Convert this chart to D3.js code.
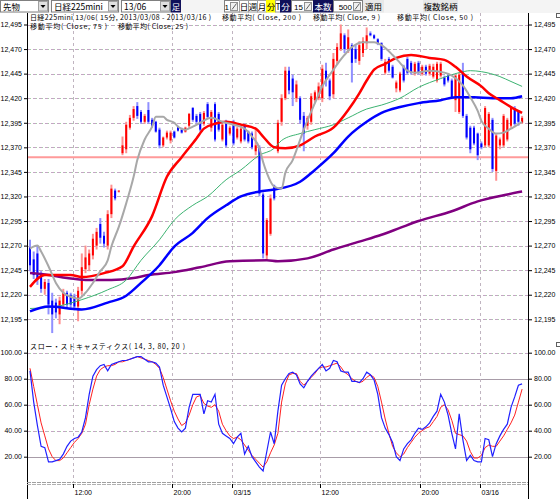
<!DOCTYPE html>
<html>
<head>
<meta charset="utf-8">
<script src="https://cdn.jsdelivr.net/npm/d3@7"></script>
<style>
  body { margin: 0; background: #fff; }
  svg text { font-family: "Liberation Sans", "DejaVu Sans", sans-serif; fill: #000; }
  svg .jp { font-family: "Noto Sans CJK JP", sans-serif; }
</style>
</head>
<body>
<svg id="chart" width="560" height="499"></svg>
<script>
// ---- data ----
const priceTicks = [12195, 12220, 12245, 12270, 12295, 12320, 12345, 12370, 12395, 12420, 12445, 12470, 12495];
const stochTicks = [20, 40, 60, 80, 100];
const stochSolid = [20, 80];
const timeTicks = [[12, '12:00'], [39, '20:00'], [55, '03/15'], [79, '12:00'], [106, '20:00'], [122, '03/16']];
const supportLevel = 12360;

// 15 min bars, [open, high, low, close]
const ohlc = [
  [12268,12276,12244,12250],[12256,12264,12236,12240],[12262,12270,12230,12236],[12240,12244,12222,12226],
  [12226,12236,12220,12233],[12232,12236,12200,12210],[12214,12222,12181,12200],[12212,12216,12196,12202],
  [12200,12218,12190,12214],[12210,12226,12206,12222],[12222,12224,12206,12210],[12220,12222,12206,12210],
  [12218,12221,12204,12208],[12208,12228,12193,12224],[12224,12262,12220,12248],[12246,12270,12242,12258],
  [12250,12266,12244,12262],[12260,12282,12256,12277],[12270,12288,12266,12284],[12292,12298,12272,12278],
  [12280,12284,12268,12272],[12270,12306,12266,12302],[12302,12332,12298,12328],[12326,12328,12316,12318],
  [12325,12326,12324,12326],
  [12364,12381,12362,12372],[12368,12396,12364,12393],[12390,12403,12388,12400],[12400,12412,12397,12409],
  [12412,12416,12399,12402],[12406,12408,12394,12396],[12396,12404,12394,12402],[12408,12416,12394,12396],
  [12398,12400,12390,12392],[12396,12397,12385,12386],[12388,12390,12369,12372],[12372,12381,12370,12380],
  [12380,12387,12378,12385],[12377,12387,12374,12385],[12386,12387,12379,12380],[12391,12392,12386,12387],
  [12388,12390,12384,12385],[12386,12391,12385,12390],[12392,12405,12390,12404],[12410,12411,12396,12398],
  [12402,12404,12394,12396],[12404,12406,12386,12388],[12394,12407,12392,12405],[12414,12416,12399,12401],
  [12390,12408,12386,12406],[12414,12416,12376,12378],[12404,12406,12386,12388],[12378,12394,12376,12393],
  [12396,12398,12370,12372],[12384,12392,12382,12390],[12396,12398,12372,12374],[12380,12391,12378,12389],
  [12376,12391,12374,12389],[12392,12394,12376,12378],[12386,12387,12374,12376],[12384,12386,12368,12370],
  [12366,12388,12362,12372],[12370,12372,12320,12323],[12322,12324,12257,12262],[12260,12298,12255,12296],
  [12282,12322,12280,12318],[12331,12332,12316,12318],
  [12366,12398,12364,12395],[12396,12424,12392,12420],[12420,12452,12418,12448],[12448,12452,12424,12428],
  [12440,12444,12412,12426],[12420,12438,12416,12434],[12420,12422,12394,12398],[12402,12406,12366,12384],
  [12392,12402,12388,12400],[12396,12425,12393,12422],[12418,12428,12415,12426],[12420,12436,12418,12432],
  [12420,12454,12416,12450],[12448,12456,12432,12438],[12438,12440,12418,12422],[12424,12466,12420,12460],
  [12458,12476,12454,12472],[12470,12495,12468,12486],[12484,12486,12466,12470],[12470,12490,12466,12482],
  [12474,12476,12436,12456],[12470,12474,12456,12460],[12458,12478,12454,12474],[12466,12482,12462,12478],
  [12476,12492,12470,12484],
  [12486,12488,12483,12484],[12484,12485,12480,12481],[12480,12481,12474,12476],[12476,12477,12458,12460],
  [12446,12460,12444,12457],[12460,12462,12446,12448],[12452,12454,12440,12441],[12430,12438,12426,12436],
  [12428,12447,12426,12445],[12452,12454,12436,12438],[12460,12462,12444,12446],[12456,12458,12444,12446],
  [12445,12457,12443,12455],[12456,12458,12444,12446],[12445,12454,12443,12452],[12452,12454,12443,12445],
  [12445,12455,12443,12453],[12442,12455,12440,12452],[12438,12457,12436,12455],[12443,12457,12441,12455],
  [12441,12443,12432,12434],[12443,12445,12436,12438],[12438,12440,12419,12421],[12418,12444,12406,12443],
  [12406,12446,12404,12444],[12446,12456,12400,12402],[12402,12404,12378,12380],[12390,12392,12364,12368],
  [12390,12392,12372,12374],[12384,12385,12357,12362],[12374,12376,12368,12370],[12372,12412,12370,12410],
  [12372,12406,12370,12404],[12398,12400,12345,12348],[12346,12384,12336,12382],[12372,12380,12368,12378],
  [12372,12404,12370,12402],[12378,12400,12376,12398],[12392,12412,12390,12410],[12410,12412,12392,12394],
  [12406,12408,12392,12396],[12395,12402,12394,12400]
];

// moving averages, [bar, value]
const ma9 = [[0,12267],[2,12270],[3,12264],[5,12249],[7,12232],[9,12222],[11,12218],[13,12216],[15,12222],
  [17,12232],[19,12244],[21,12255],[22,12269],[24,12289],[26,12313],[28,12340],[29,12357],[31,12378],[33,12391],
  [34,12401],[36,12401],[37,12398],[39,12395],[40,12391],[42,12388],[44,12391],[46,12395],[49,12400],[52,12396],
  [55,12393],[58,12389],[60,12381],[62,12369],[63,12355],[64,12344],[66,12330],[68,12328],[69,12344],[71,12357],
  [72,12367],[74,12388],[77,12415],[79,12432],[82,12449],[85,12464],[87,12472],[90,12477],[93,12477],[95,12474],
  [98,12464],[100,12456],[102,12448],[104,12446],[108,12448],[112,12446],[114,12443],[117,12433],[119,12421],
  [121,12407],[122,12397],[124,12389],[126,12384],[128,12385],[130,12389],[131,12391],[133,12396]];
const ma25 = [[0,12228],[4,12240],[11,12240],[14,12238],[20,12242],[25,12249],[28,12269],[33,12300],[37,12340],
  [41,12360],[45,12379],[47,12389],[50,12394],[53,12396],[57,12393],[61,12389],[63,12381],[66,12370],[69,12369],
  [73,12372],[77,12381],[82,12390],[86,12408],[89,12425],[91,12438],[93,12449],[96,12455],[99,12461],[103,12464],
  [108,12461],[112,12459],[115,12452],[118,12442],[122,12432],[124,12425],[127,12418],[130,12411],[133,12405]];
const ma50 = [[0,12206],[7,12208],[14,12215],[21,12225],[26,12235],[30,12255],[35,12276],[39,12296],[44,12311],
  [48,12320],[53,12337],[57,12347],[62,12362],[66,12369],[68,12377],[73,12384],[77,12388],[82,12393],[86,12400],
  [91,12409],[95,12413],[100,12420],[105,12431],[111,12440],[116,12446],[119,12448],[122,12447],[127,12442],
  [130,12437],[133,12432]];
const ma75 = [[0,12203],[5,12208],[14,12205],[21,12212],[26,12219],[30,12232],[35,12250],[39,12269],[44,12283],
  [48,12298],[53,12311],[57,12320],[62,12325],[66,12327],[73,12335],[77,12347],[82,12364],[86,12381],[91,12396],
  [95,12405],[100,12411],[105,12415],[111,12418],[115,12421],[120,12421],[125,12420],[130,12420],[133,12422]];
const ma200 = [[0,12242],[5,12240],[10,12237],[15,12235],[22,12235],[28,12237],[32,12240],[39,12243],[46,12248],
  [54,12254],[64,12255],[67,12254],[75,12257],[82,12266],[89,12274],[95,12281],[100,12288],[105,12295],
  [114,12305],[121,12315],[129,12322],[133,12325]];

// slow stochastics, one value per bar
const stochK = [86,62,44,28,27,16,16,17,18,22,28,32,34,35,39,50,68,82,87,90,91,86,91,92,93,94,94,95,96,97,
  97,95,93,93,92,89,75,66,57,47,42,39,42,58,68,68,68,53,63,62,68,45,38,36,34,30,35,38,22,28,
  20,16,12,9,24,39,30,55,75,80,84,85,83,76,73,78,82,85,88,91,86,88,94,93,86,85,85,78,78,77,
  80,85,83,79,68,50,42,37,31,20,17,26,30,33,38,42,41,43,46,51,55,68,62,52,38,26,53,33,17,21,
  17,16,16,34,33,20,30,36,41,45,58,66,75,76];
const stochD = [88,74,60,46,36,26,20,17,17,19,23,27,31,34,38,45,60,72,82,87,89,90,90,91,93,93,94,95,96,97,
  96,95,94,93,91,88,81,72,63,55,49,44,46,52,60,66,67,61,59,58,60,55,45,40,36,34,35,33,29,25,
  21,18,15,12,16,23,29,38,62,76,83,84,84,78,75,78,81,84,88,89,89,90,91,92,89,85,83,80,78,77,
  78,81,83,81,74,62,49,38,28,23,20,22,27,31,35,38,40,42,43,47,51,58,60,56,48,38,37,36,32,24,
  19,19,21,27,29,28,28,32,36,41,46,52,62,72];

// ---- layout ----
const svg = d3.select('#chart');
const plotLeft = 27, plotRight = 528;
const mainTop = 13, stochBottom = 483;

const x = d3.scaleLinear().domain([0, 133]).range([30, 30 + 3.7 * 133]);
const y = d3.scaleLinear().domain([12195, 12495]).range([319.3, 24.5]);
const ys = d3.scaleLinear().domain([0, 100]).range([482.7, 352.7]);

// ---- grid ----
const grid = svg.append('g');

function dashedH(g, yy) {
  g.append('line').attr('x1', plotLeft).attr('x2', plotRight).attr('y1', yy).attr('y2', yy)
    .attr('stroke', '#c4a6c4').attr('stroke-dasharray', '3,3');
  g.append('line').attr('x1', plotLeft + 3).attr('x2', plotRight).attr('y1', yy).attr('y2', yy)
    .attr('stroke', '#a6d4a6').attr('stroke-dasharray', '1,5');
}

priceTicks.forEach(p => dashedH(grid, Math.round(y(p)) + 0.5));
stochTicks.filter(v => !stochSolid.includes(v)).forEach(v => dashedH(grid, Math.round(ys(v)) + 0.5));
stochSolid.forEach(v => {
  grid.append('line').attr('x1', plotLeft).attr('x2', plotRight)
    .attr('y1', Math.round(ys(v)) + 0.5).attr('y2', Math.round(ys(v)) + 0.5)
    .attr('stroke', '#a89ca8');
});

timeTicks.forEach(([i]) => {
  const xx = Math.round(x(i - 0.5)) + 0.5;
  grid.append('line').attr('x1', xx).attr('x2', xx).attr('y1', mainTop).attr('y2', stochBottom)
    .attr('stroke', '#c0b4c0').attr('stroke-dasharray', '3,3');
});

// red horizontal level
svg.append('line').attr('x1', plotLeft).attr('x2', plotRight)
  .attr('y1', y(supportLevel)).attr('y2', y(supportLevel))
  .attr('stroke', '#ff9a9a').attr('stroke-width', 2);

// ---- candles ----
const candles = svg.append('g').selectAll('g').data(ohlc).join('g');
candles.append('line')
  .attr('x1', (d, i) => x(i)).attr('x2', (d, i) => x(i))
  .attr('y1', d => y(d[1])).attr('y2', d => y(d[2]))
  .attr('stroke', d => d[3] >= d[0] ? '#ff9090' : '#9090ff')
  .attr('stroke-width', 2);
candles.append('rect')
  .attr('x', (d, i) => x(i) - 1).attr('width', 2)
  .attr('y', d => y(Math.max(d[0], d[3])))
  .attr('height', d => Math.max(1, Math.abs(y(d[0]) - y(d[3]))))
  .attr('fill', d => d[3] >= d[0] ? '#ff0000' : '#0000ff');

// ---- moving averages ----
const maLine = d3.line().x(d => x(d[0])).y(d => y(d[1])).curve(d3.curveMonotoneX);
[[ma200, '#800080', 2.5], [ma50, '#3cb371', 1], [ma75, '#0000ff', 2.5], [ma25, '#ff0000', 2.5], [ma9, '#a8a8a8', 2]]
  .forEach(([data, color, w]) => {
    svg.append('path').datum(data).attr('d', maLine)
      .attr('fill', 'none').attr('stroke', color).attr('stroke-width', w);
  });

// ---- stochastics ----
const stLine = d3.line().x((d, i) => x(i)).y(d => ys(d));
svg.append('path').datum(stochD).attr('d', stLine)
  .attr('fill', 'none').attr('stroke', '#ff2020').attr('stroke-width', 1);
svg.append('path').datum(stochK).attr('d', stLine)
  .attr('fill', 'none').attr('stroke', '#2020ff').attr('stroke-width', 1.2);

// ---- axes ----
svg.append('line').attr('x1', plotLeft + 0.5).attr('x2', plotLeft + 0.5).attr('y1', mainTop).attr('y2', 499)
  .attr('stroke', '#000');
svg.append('line').attr('x1', plotRight + 0.5).attr('x2', plotRight + 0.5).attr('y1', mainTop).attr('y2', 499)
  .attr('stroke', '#000');
svg.append('line').attr('x1', plotLeft).attr('x2', plotRight).attr('y1', stochBottom - 0.5).attr('y2', stochBottom - 0.5)
  .attr('stroke', '#a0a0a0').attr('stroke-dasharray', '4,1');
svg.append('line').attr('x1', plotLeft).attr('x2', plotRight).attr('y1', stochBottom + 1.5).attr('y2', stochBottom + 1.5)
  .attr('stroke', '#b0b0b0').attr('stroke-dasharray', '4,1');

function styleAxis(g) {
  g.select('.domain').remove();
  g.selectAll('text').style('font-size', '7px');
  g.selectAll('line').attr('stroke', '#000');
}
const fmtPrice = d3.format(',');
const fmtStoch = d3.format('.2f');
svg.append('g').attr('transform', `translate(${plotLeft},0)`)
  .call(d3.axisLeft(y).tickValues(priceTicks).tickFormat(fmtPrice).tickSize(3).tickPadding(2)).call(styleAxis);
svg.append('g').attr('transform', `translate(${plotRight + 1},0)`)
  .call(d3.axisRight(y).tickValues(priceTicks).tickFormat(fmtPrice).tickSize(3).tickPadding(2)).call(styleAxis);
svg.append('g').attr('transform', `translate(${plotLeft},0)`)
  .call(d3.axisLeft(ys).tickValues(stochTicks).tickFormat(fmtStoch).tickSize(3).tickPadding(2)).call(styleAxis);
svg.append('g').attr('transform', `translate(${plotRight + 1},0)`)
  .call(d3.axisRight(ys).tickValues(stochTicks).tickFormat(fmtStoch).tickSize(3).tickPadding(2)).call(styleAxis);

// time labels, left aligned on the grid line
const tg = svg.append('g');
timeTicks.forEach(([i, label]) => {
  const xx = Math.round(x(i - 0.5)) + 0.5;
  tg.append('line').attr('x1', xx).attr('x2', xx).attr('y1', stochBottom + 1).attr('y2', stochBottom + 5)
    .attr('stroke', '#000');
  tg.append('text').attr('x', xx + 1).attr('y', 495).style('font-size', '7px').text(label);
});

// small boxes at the right edge
[13, 342].forEach(yy => {
  svg.append('rect').attr('x', 556.5).attr('y', yy + 0.5).attr('width', 4).attr('height', 4)
    .attr('fill', '#fff').attr('stroke', '#606060');
});

// ---- titles ----
const titles = [
  [30, 20, '日経225mini 13/06( 15分, 2013/03/08 - 2013/03/16 )', 181],
  [222, 20, '移動平均( Close, 200 )', 79],
  [313, 20, '移動平均( Close, 9 )', 67],
  [397, 20, '移動平均( Close, 50 )', 76],
  [30, 28.5, '移動平均( Close, 75 )', 77],
  [118, 28.5, '移動平均( Close, 25 )', 70],
  [30, 349, 'スロー・ストキャスティクス( 14, 3, 80, 20 )', 155]
];
titles.forEach(([tx, ty, s, w]) => {
  svg.append('text').attr('class', 'jp').attr('x', tx).attr('y', ty)
    .attr('textLength', w).attr('lengthAdjust', 'spacing')
    .style('font-size', '7px').text(s);
});

// ---- toolbar ----
const tb = svg.append('g');
tb.append('rect').attr('x', 0).attr('y', 0).attr('width', 560).attr('height', 13).attr('fill', '#f4f4f4');

function combo(x0, w, label) {
  tb.append('rect').attr('x', x0 + 0.5).attr('y', 0.5).attr('width', w).attr('height', 11.5)
    .attr('fill', '#fff').attr('stroke', '#808080');
  tb.append('rect').attr('x', x0 + w - 9.5).attr('y', 1.5).attr('width', 9).attr('height', 9.5)
    .attr('fill', '#e0e0e0').attr('stroke', '#a0a0a0');
  tb.append('path').attr('d', `M${x0 + w - 7.5},5 h5 l-2.5,3 z`).attr('fill', '#000');
  tb.append('text').attr('class', 'jp').attr('x', x0 + 3).attr('y', 9.5).style('font-size', '8.5px').text(label);
}
function flat(x0, w, label, bg, fg) {
  tb.append('rect').attr('x', x0 + 0.5).attr('y', 0.5).attr('width', w).attr('height', 11.5)
    .attr('fill', bg).attr('stroke', bg === '#fff' ? '#a0a0a0' : bg);
  tb.append('text').attr('class', 'jp').attr('x', x0 + w / 2 + 0.5).attr('y', 9.5)
    .attr('text-anchor', 'middle').style('font-size', '8.5px').style('fill', fg).text(label);
}
function spin(x0, w, label) {
  tb.append('rect').attr('x', x0 + 0.5).attr('y', 0.5).attr('width', w).attr('height', 11.5)
    .attr('fill', '#fff').attr('stroke', '#808080');
  tb.append('text').attr('x', x0 + w - 10).attr('y', 9.5).attr('text-anchor', 'end')
    .style('font-size', '8px').text(label);
  tb.append('rect').attr('x', x0 + w - 8.5).attr('y', 2.5).attr('width', 7).attr('height', 8)
    .attr('fill', '#f0f0f0').attr('stroke', '#909090');
  tb.append('path').attr('d', `M${x0 + w - 7},9.5 L${x0 + w - 2.5},3.5`).attr('stroke', '#606060');
}

combo(0, 48, '先物');
combo(51, 67, '日経225mini');
combo(121, 49, '13/06');
flat(171, 9, '足', '#10105a', '#fff');
spin(224, 15, '1');
flat(239, 9, '日', '#fff', '#000');
flat(248, 9, '週', '#fff', '#000');
flat(257, 9, '月', '#fff', '#000');
flat(266, 9, '分', '#ffff00', '#000');
flat(275, 5, 'T', '#fff', '#000');
flat(280, 10, '分', '#10105a', '#fff');
spin(291, 22, '15');
flat(313, 19, '本数', '#10105a', '#fff');
spin(333, 29, '500');
flat(363, 20, '適用', '#e8e8e8', '#000');
flat(423, 34, '複数銘柄', '#e8e8e8', '#000');
</script>
</body>
</html>
